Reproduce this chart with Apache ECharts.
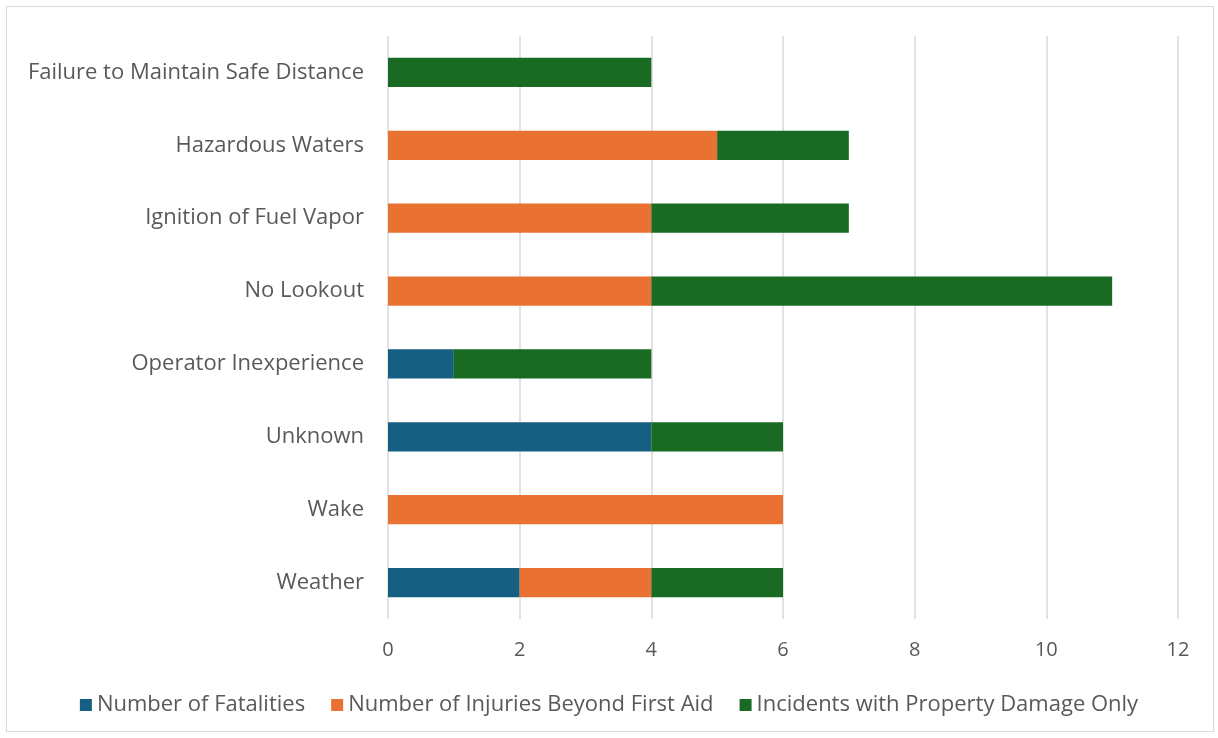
<!DOCTYPE html>
<html>
<head>
<meta charset="utf-8">
<script src="https://cdn.jsdelivr.net/npm/echarts@6/dist/echarts.min.js"></script>
<style>
  html, body { margin: 0; padding: 0; background: #fff; }
  #chart { width: 1218px; height: 738px; }
  #frame { position: absolute; left: 6px; top: 6px; width: 1208px; height: 726px; border: 1px solid #d9d9d9; box-sizing: border-box; pointer-events: none; }
</style>
</head>
<body>
<div id="chart"></div>
<div id="frame"></div>
<script>
// categories, top to bottom
const causes = [
  'Failure to Maintain Safe Distance',
  'Hazardous Waters',
  'Ignition of Fuel Vapor',
  'No Lookout',
  'Operator Inexperience',
  'Unknown',
  'Wake',
  'Weather'
];
const fatalities = [0, 0, 0, 0, 1, 4, 0, 2];
const injuries   = [0, 5, 4, 4, 0, 0, 6, 2];
const propertyOnly = [4, 2, 3, 7, 3, 2, 0, 2];
const xTicks = [0, 2, 4, 6, 8, 10, 12];

const textColor = '#595959';
const fontFam = '"Open Sans", "Noto Sans", sans-serif';

let myChart = echarts.init(document.getElementById('chart'));

const seriesDefs = [
  { name: 'Number of Fatalities', data: fatalities, color: '#156082' },
  { name: 'Number of Injuries Beyond First Aid', data: injuries, color: '#E97132' },
  { name: 'Incidents with Property Damage Only', data: propertyOnly, color: '#196B24' }
];

let option = {
  animation: false,
  grid: { left: 388, right: 40, top: 36, bottom: 119, containLabel: false },
  legend: {
    bottom: 17,
    left: 'center',
    icon: 'rect',
    itemWidth: 12,
    itemHeight: 12,
    itemGap: 26,
    textStyle: { color: textColor, fontSize: 22, fontFamily: fontFam },
    data: seriesDefs.map(s => s.name)
  },
  xAxis: {
    type: 'value',
    min: xTicks[0],
    max: xTicks[xTicks.length - 1],
    interval: 2,
    axisLine: { show: false },
    axisTick: { show: false },
    splitLine: { show: true, lineStyle: { color: '#d9d9d9', width: 1.5 } },
    axisLabel: { color: textColor, fontSize: 20, fontFamily: fontFam, margin: 21 }
  },
  yAxis: {
    type: 'category',
    inverse: true,
    data: causes,
    axisLine: { show: false },
    axisTick: { show: false },
    axisLabel: { color: textColor, fontSize: 22, fontFamily: fontFam, margin: 24 }
  },
  series: seriesDefs.map(s => ({
    name: s.name,
    type: 'bar',
    stack: 'total',
    barWidth: '40%',
    itemStyle: { color: s.color },
    data: s.data
  }))
};

myChart.setOption(option);
</script>
</body>
</html>
